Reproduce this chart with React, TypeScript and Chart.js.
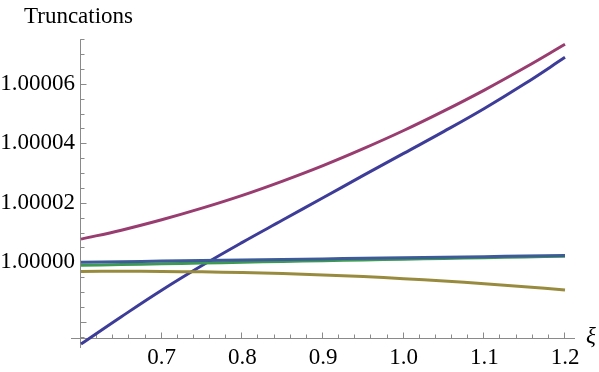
import React, { useEffect, useRef } from "react";
import { Chart, registerables } from "chart.js";

Chart.register(...registerables);

// ξ sample positions
const xValues = [0.6, 0.65, 0.7, 0.75, 0.8, 0.85, 0.9, 0.95, 1.0, 1.05, 1.1, 1.15, 1.2];

// Series values
const seriesDarkBlue = [
  0.9999725, 0.9999817, 0.9999906, 0.9999989, 1.0000067, 1.0000142, 1.0000217,
  1.0000292, 1.0000366, 1.000044, 1.0000517, 1.00006, 1.0000689,
];
const seriesPurple = [
  1.0000078, 1.0000108, 1.0000143, 1.0000182, 1.0000225, 1.0000273, 1.0000325,
  1.0000382, 1.0000443, 1.0000509, 1.0000579, 1.0000654, 1.0000733,
];
const seriesOlive = [
  0.9999969, 0.999997, 0.9999969, 0.9999968, 0.99999655, 0.9999962, 0.9999957,
  0.9999952, 0.9999945, 0.9999937, 0.9999928, 0.9999918, 0.9999907,
];
const seriesGreen = [
  0.999999, 0.99999925, 0.9999995, 0.99999975, 1.0, 1.0000003, 1.00000055,
  1.0000008, 1.00000105, 1.0000013, 1.00000155, 1.0000018, 1.00000205,
];
const seriesBlue = [
  1.0, 1.0000002, 1.0000004, 1.0000006, 1.0000008, 1.00000095, 1.00000115,
  1.00000135, 1.00000155, 1.0000017, 1.0000019, 1.0000021, 1.0000023,
];

// Axis ticks
const xMajorTicks = [0.7, 0.8, 0.9, 1.0, 1.1, 1.2];
const yMajorTicks = [1.0, 1.00002, 1.00004, 1.00006];
const xMinorStep = 0.02;
const yMinorStep = 0.000005;

const xRange = [0.6, 1.2];
const yRange = [0.9999722, 1.0000754];
const xAxisAtY = 0.99997445; // where the horizontal axis crosses
const yAxisAtX = 0.6; // where the vertical axis crosses

const titleText = "Truncations";
const xAxisLabel = "ξ";

const colors = {
  darkBlue: "#3d3d99",
  purple: "#993d71",
  olive: "#998b3d",
  green: "#3d9954",
  blue: "#3d5a99",
  axis: "#8a8a8a",
};

const FONT = '"Liberation Serif", "Times New Roman", serif';

const mmaAxes = {
  id: "mmaAxes",
  beforeDatasetsDraw(chart: any) {
    const ctx = chart.ctx;
    const xs = chart.scales.x;
    const ys = chart.scales.y;
    const px0 = Math.round(xs.getPixelForValue(yAxisAtX)) - 0.5;
    const py0 = Math.round(ys.getPixelForValue(xAxisAtY)) + 0.5;
    ctx.save();
    ctx.strokeStyle = colors.axis;
    ctx.lineWidth = 1;
    // horizontal axis
    ctx.beginPath();
    ctx.moveTo(xs.left - 10, py0);
    ctx.lineTo(xs.right + 10, py0);
    ctx.stroke();
    // vertical axis
    ctx.beginPath();
    ctx.moveTo(px0, ys.bottom + 3);
    ctx.lineTo(px0, ys.getPixelForValue(1.000075));
    ctx.stroke();
    // x ticks
    const nx = Math.round((xRange[1] - xRange[0]) / xMinorStep);
    for (let k = 1; k <= nx; k++) {
      const v = xRange[0] + k * xMinorStep;
      const isMajor = xMajorTicks.some((m) => Math.abs(m - v) < 1e-6);
      const p = Math.round(xs.getPixelForValue(v)) - 0.5;
      const len = isMajor ? 6 : 4;
      ctx.beginPath();
      ctx.moveTo(p, py0);
      ctx.lineTo(p, py0 - len);
      ctx.stroke();
    }
    // y ticks
    for (let k = -5; k <= 15; k++) {
      const v = 1 + k * yMinorStep;
      const isMajor = k % 4 === 0;
      const p = Math.round(ys.getPixelForValue(v)) + 0.5;
      const len = isMajor ? 6 : 4;
      ctx.beginPath();
      ctx.moveTo(px0, p);
      ctx.lineTo(px0 + len, p);
      ctx.stroke();
    }
    ctx.restore();
  },
  afterDraw(chart: any) {
    const ctx = chart.ctx;
    const xs = chart.scales.x;
    const ys = chart.scales.y;
    ctx.save();
    ctx.fillStyle = "#000";
    ctx.textAlign = "left";
    ctx.textBaseline = "alphabetic";
    ctx.font = `23px ${FONT}`;
    ctx.fillText(titleText, 24, 23);
    ctx.font = `italic 23px ${FONT}`;
    ctx.fillText(xAxisLabel, xs.right + 21, ys.getPixelForValue(xAxisAtY) + 5);
    ctx.restore();
  },
};

export default function App() {
  const canvasRef = useRef<HTMLCanvasElement | null>(null);

  useEffect(() => {
    document.body.style.margin = "0";
    const canvas = canvasRef.current;
    if (!canvas) return;
    const mk = (data: number[], color: string) => ({
      data: xValues.map((x, i) => ({ x, y: data[i] })),
      borderColor: color,
      backgroundColor: color,
      borderWidth: 3,
      pointRadius: 0,
      tension: 0.4,
      fill: false,
      clip: false as const,
    });
    const chart = new Chart(canvas, {
      type: "line",
      data: {
        // first dataset is drawn on top
        datasets: [
          mk(seriesBlue, colors.blue),
          mk(seriesGreen, colors.green),
          mk(seriesOlive, colors.olive),
          mk(seriesPurple, colors.purple),
          mk(seriesDarkBlue, colors.darkBlue),
        ],
      },
      options: {
        animation: false,
        responsive: true,
        maintainAspectRatio: false,
        layout: { padding: { top: 38, right: 34, bottom: 0, left: 0 } },
        plugins: {
          legend: { display: false },
          tooltip: { enabled: false },
          title: { display: false },
        },
        scales: {
          x: {
            type: "linear",
            min: xRange[0],
            max: xRange[1],
            grid: { display: false, drawTicks: false },
            border: { display: false },
            afterBuildTicks: (scale: any) => {
              scale.ticks = xMajorTicks.map((v) => ({ value: v }));
            },
            afterFit: (scale: any) => {
              scale.height = 27;
            },
            ticks: {
              autoSkip: false,
              maxRotation: 0,
              padding: 1,
              color: "#000",
              font: { family: FONT, size: 23, lineHeight: 1 },
              callback: (v: any) => Number(v).toFixed(1),
            },
          },
          y: {
            type: "linear",
            min: yRange[0],
            max: yRange[1],
            grid: { display: false, drawTicks: false },
            border: { display: false },
            afterBuildTicks: (scale: any) => {
              scale.ticks = yMajorTicks.map((v) => ({ value: v }));
            },
            afterFit: (scale: any) => {
              scale.width = 81;
            },
            ticks: {
              autoSkip: false,
              padding: 6,
              color: "#000",
              font: { family: FONT, size: 23, lineHeight: 1 },
              callback: (v: any) => Number(v).toFixed(5),
            },
          },
        },
      },
      plugins: [mmaAxes],
    });
    return () => chart.destroy();
  }, []);

  return (
    <div style={{ position: "relative", width: 599, height: 372 }}>
      <canvas ref={canvasRef} />
    </div>
  );
}
